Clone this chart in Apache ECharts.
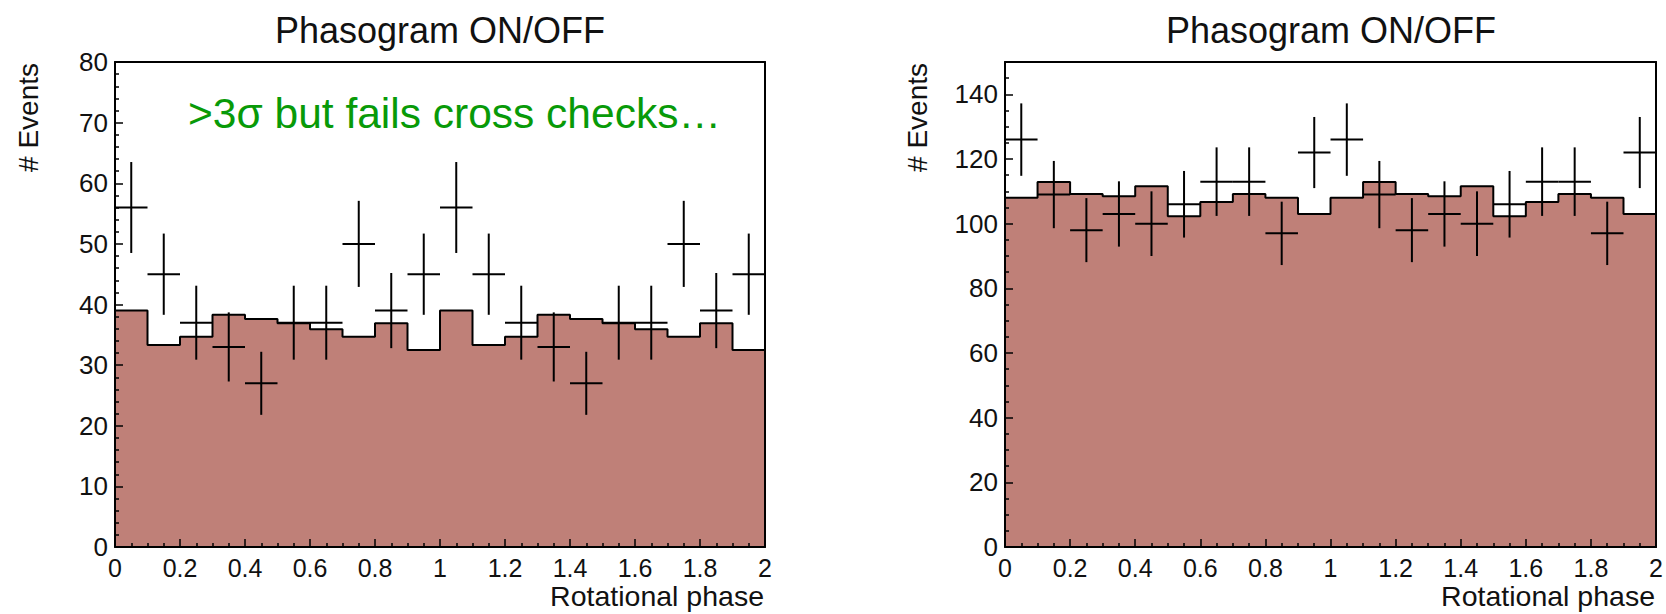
<!DOCTYPE html>
<html>
<head>
<meta charset="utf-8">
<title>Phasogram ON/OFF</title>
<script src="https://cdn.jsdelivr.net/npm/echarts@6/dist/echarts.min.js"></script>
<style>
  html, body { margin: 0; padding: 0; background: #ffffff; }
  #chart { width: 1666px; height: 614px; }
</style>
</head>
<body>
<div id="chart"></div>
<script>
// Phase bins: low edges, two rotations (0..2)
const binStart = [0, 0.1, 0.2, 0.3, 0.4, 0.5, 0.6, 0.7, 0.8, 0.9,
                  1.0, 1.1, 1.2, 1.3, 1.4, 1.5, 1.6, 1.7, 1.8, 1.9];
const binWidth = 0.1;

// Left panel: OFF (filled histogram), ON counts and their errors
const leftOff = [39, 33.3, 34.7, 38.3, 37.6, 36.9, 35.9, 34.7, 36.9, 32.5,
                 39, 33.3, 34.7, 38.3, 37.6, 36.9, 35.9, 34.7, 36.9, 32.5];
const leftOn  = [56, 45, 37, 33, 27, 37, 37, 50, 39, 45,
                 56, 45, 37, 33, 27, 37, 37, 50, 39, 45];
const leftErr = [7.5, 6.7, 6.1, 5.7, 5.2, 6.1, 6.1, 7.1, 6.2, 6.7,
                 7.5, 6.7, 6.1, 5.7, 5.2, 6.1, 6.1, 7.1, 6.2, 6.7];

// Right panel
const rightOff = [108, 112.9, 109.2, 108.5, 111.6, 102.3, 106.7, 109.2, 108, 103,
                  108, 112.9, 109.2, 108.5, 111.6, 102.3, 106.7, 109.2, 108, 103];
const rightOn  = [126, 109, 98, 103, 100, 106, 113, 113, 97, 122,
                  126, 109, 98, 103, 100, 106, 113, 113, 97, 122];
const rightErr = [11.2, 10.4, 9.9, 10.1, 10, 10.3, 10.6, 10.6, 9.8, 11,
                  11.2, 10.4, 9.9, 10.1, 10, 10.3, 10.6, 10.6, 9.8, 11];

// Axis ranges
const xRange = [0, 2];
const leftYRange = [0, 80];
const rightYRange = [0, 150];

// Text
const panelTitle = 'Phasogram ON/OFF';
const xTitle = 'Rotational phase';
const yTitle = '# Events';
const note = '>3\u03C3 but fails cross checks\u2026';

const FONT = "'Liberation Sans', Arial, Helvetica, sans-serif";
const INK = '#111111';
const FILL = '#bf8078';

function stepData(values) {
  const pts = binStart.map((x, i) => [x, values[i]]);
  pts.push([binStart[binStart.length - 1] + binWidth, values[values.length - 1]]);
  return pts;
}
function crossData(values, errs) {
  return binStart.map((x, i) => [x + binWidth / 2, values[i], errs[i]]);
}

// Data point: horizontal bar spans the bin, vertical bar spans +/- error
function renderCross(params, api) {
  const x = api.value(0), y = api.value(1), e = api.value(2);
  const l = api.coord([x - binWidth / 2, y]);
  const r = api.coord([x + binWidth / 2, y]);
  const t = api.coord([x, y + e]);
  const b = api.coord([x, y - e]);
  const st = { stroke: '#000', lineWidth: 2 };
  return {
    type: 'group',
    children: [
      { type: 'line', shape: { x1: l[0], y1: l[1], x2: r[0], y2: r[1] }, style: st },
      { type: 'line', shape: { x1: t[0], y1: t[1], x2: b[0], y2: b[1] }, style: st }
    ]
  };
}

const grids = [
  { left: 115, top: 62, width: 650, height: 485 },
  { left: 1005, top: 62, width: 652, height: 485 }
];

function bottomAxis(gridIndex) {
  return {
    type: 'value', gridIndex, position: 'bottom', min: xRange[0], max: xRange[1], interval: 0.2,
    z: 10,
    axisLine: { show: true, onZero: false, lineStyle: { color: '#000', width: 2 } },
    axisTick: { show: true, inside: true, length: 8, lineStyle: { color: '#000', width: 1.5 } },
    minorTick: { show: true, splitNumber: 4, length: 4, lineStyle: { color: '#000', width: 1.5 } },
    splitLine: { show: false },
    axisLabel: { color: INK, fontFamily: FONT, fontSize: 25, margin: 8 }
  };
}
function topAxis(gridIndex) {
  return {
    type: 'value', gridIndex, position: 'top', min: xRange[0], max: xRange[1], z: 10,
    axisLine: { show: true, onZero: false, lineStyle: { color: '#000', width: 2 } },
    axisTick: { show: false }, axisLabel: { show: false }, splitLine: { show: false }
  };
}
function leftAxis(gridIndex, range, interval, minorSplit) {
  return {
    type: 'value', gridIndex, position: 'left', min: range[0], max: range[1], interval,
    z: 10,
    axisLine: { show: true, onZero: false, lineStyle: { color: '#000', width: 2 } },
    axisTick: { show: true, inside: true, length: 8, lineStyle: { color: '#000', width: 1.5 } },
    minorTick: { show: true, splitNumber: minorSplit, length: 4, lineStyle: { color: '#000', width: 1.5 } },
    splitLine: { show: false },
    axisLabel: { color: INK, fontFamily: FONT, fontSize: 26, margin: 7, showMaxLabel: range[1] % interval === 0 }
  };
}
function rightAxis(gridIndex, range) {
  return {
    type: 'value', gridIndex, position: 'right', min: range[0], max: range[1], z: 10,
    axisLine: { show: true, onZero: false, lineStyle: { color: '#000', width: 2 } },
    axisTick: { show: false }, axisLabel: { show: false }, splitLine: { show: false }
  };
}

function label(text, x, y, size, align, extra) {
  return Object.assign({
    type: 'text', x, y, z: 100,
    style: {
      text, fill: INK, font: size + 'px ' + FONT,
      align, verticalAlign: 'middle'
    }
  }, extra || {});
}

const chart = echarts.init(document.getElementById('chart'), null, { renderer: 'svg' });

chart.setOption({
  animation: false,
  backgroundColor: '#ffffff',
  grid: grids,
  xAxis: [bottomAxis(0), topAxis(0), bottomAxis(1), topAxis(1)],
  yAxis: [
    leftAxis(0, leftYRange, 10, 5), rightAxis(0, leftYRange),
    leftAxis(1, rightYRange, 20, 4), rightAxis(1, rightYRange)
  ],
  series: [
    {
      type: 'line', xAxisIndex: 0, yAxisIndex: 0, step: 'end', symbol: 'none', z: 2,
      data: stepData(leftOff),
      lineStyle: { color: '#000', width: 2 },
      areaStyle: { color: FILL, opacity: 1 }
    },
    {
      type: 'custom', xAxisIndex: 0, yAxisIndex: 0, z: 5,
      renderItem: renderCross, data: crossData(leftOn, leftErr)
    },
    {
      type: 'line', xAxisIndex: 2, yAxisIndex: 2, step: 'end', symbol: 'none', z: 2,
      data: stepData(rightOff),
      lineStyle: { color: '#000', width: 2 },
      areaStyle: { color: FILL, opacity: 1 }
    },
    {
      type: 'custom', xAxisIndex: 2, yAxisIndex: 2, z: 5,
      renderItem: renderCross, data: crossData(rightOn, rightErr)
    }
  ],
  graphic: [
    label(panelTitle, 440, 30, 36, 'center'),
    label(panelTitle, 1331, 30, 36, 'center'),
    label(xTitle, 764, 596, 28.5, 'right'),
    label(xTitle, 1655, 596, 28.5, 'right'),
    label(yTitle, 28, 63, 28, 'right', { rotation: Math.PI / 2 }),
    label(yTitle, 917, 63, 28, 'right', { rotation: Math.PI / 2 }),
    label(note, 188, 113, 42.5, 'left', {
      style: { text: note, fill: '#089a08', font: '42.5px ' + FONT, align: 'left', verticalAlign: 'middle' }
    })
  ]
});
</script>
</body>
</html>
